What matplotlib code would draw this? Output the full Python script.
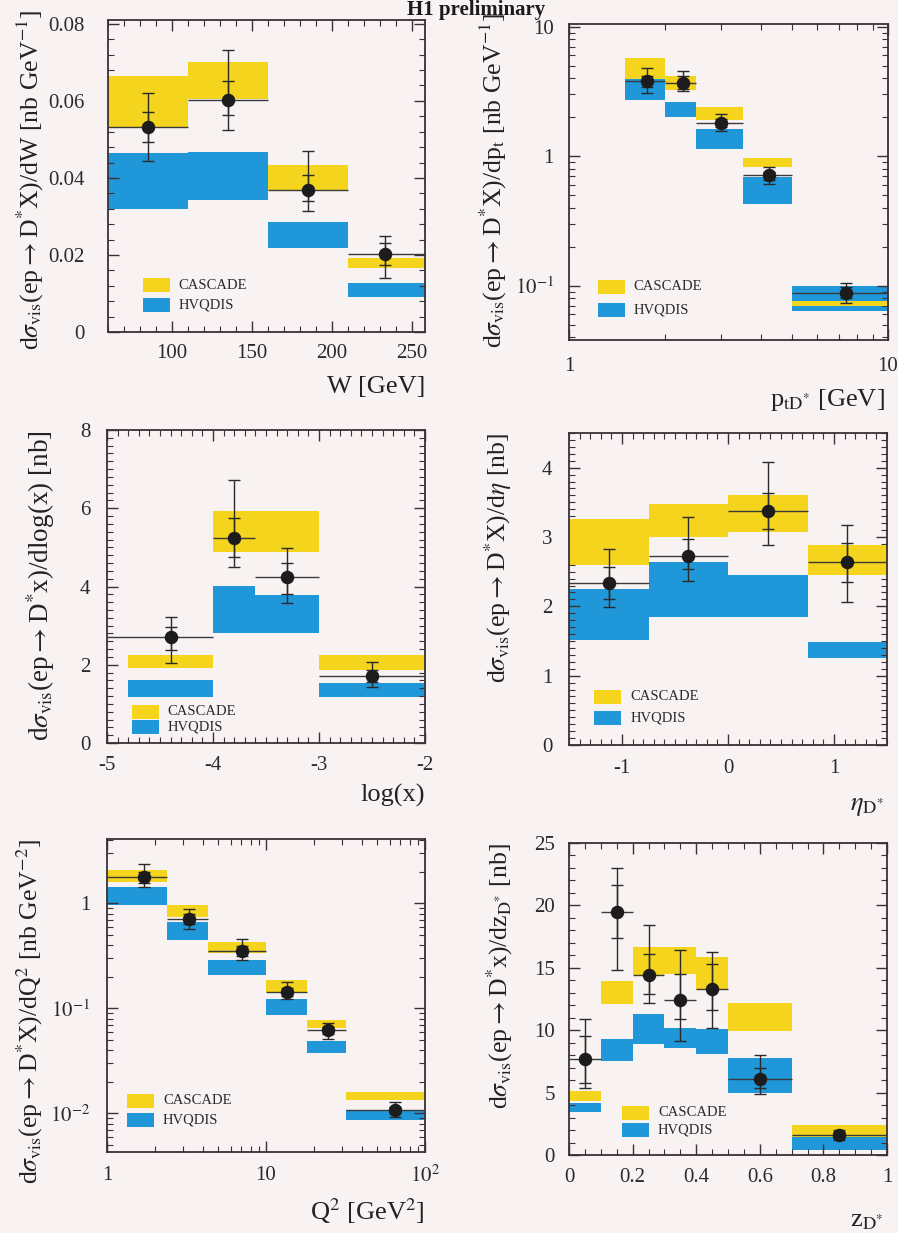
import matplotlib
matplotlib.use('Agg')
import matplotlib.pyplot as plt
import numpy as np
from matplotlib.ticker import MultipleLocator, FixedLocator, FuncFormatter, LogLocator, NullFormatter
from matplotlib.patches import Rectangle

plt.rcParams['font.family'] = ['Liberation Serif', 'DejaVu Serif']
plt.rcParams['mathtext.fontset'] = 'stix'

# ---------------- data ----------------
# Panel 1: W
w_edges = [60, 110, 160, 210, 258]
w_x = [85, 135, 185, 233]
w_val = [0.0533, 0.0603, 0.0369, 0.0203]
w_stat_dn = [0.0039, 0.0039, 0.0030, 0.0028]
w_stat_up = [0.0039, 0.0048, 0.0039, 0.0028]
w_tot_dn = [0.0090, 0.0078, 0.0056, 0.0063]
w_tot_up = [0.0087, 0.0130, 0.0102, 0.0045]
w_cas_lo = [0.0532, 0.0605, 0.0369, 0.0166]
w_cas_hi = [0.0665, 0.0700, 0.0434, 0.0192]
w_hvq_lo = [0.0320, 0.0343, 0.0218, 0.0091]
w_hvq_hi = [0.0465, 0.0468, 0.0286, 0.0127]

# Panel 2: pt(D*)
pt_edges = [1.5, 2.0, 2.5, 3.5, 5.0, 10.0]
pt_x = [1.76, 2.28, 3.0, 4.24, 7.4]
pt_val = [3.79, 3.68, 1.82, 0.71, 0.088]
pt_stat_dn = [0.39, 0.38, 0.13, 0.05, 0.008]
pt_stat_up = [0.41, 0.49, 0.13, 0.05, 0.009]
pt_tot_dn = [0.71, 0.47, 0.25, 0.10, 0.014]
pt_tot_up = [1.00, 0.89, 0.28, 0.11, 0.017]
pt_cas_lo = [3.93, 3.27, 1.90, 0.82, 0.069]
pt_cas_hi = [5.70, 4.14, 2.40, 0.96, 0.076]
pt_hvq_lo = [2.70, 2.01, 1.13, 0.43, 0.064]
pt_hvq_hi = [4.02, 2.63, 1.61, 0.69, 0.099]

# Panel 3: log(x)
lx_edges = [-5.0, -4.0, -3.6, -3.0, -2.0]
lx_mc_edges = [-4.8, -4.0, -3.6, -3.0, -2.0]
lx_x = [-4.4, -3.8, -3.3, -2.5]
lx_val = [2.72, 5.24, 4.25, 1.71]
lx_stat_dn = [0.34, 0.48, 0.43, 0.15]
lx_stat_up = [0.25, 0.50, 0.34, 0.15]
lx_tot_dn = [0.68, 0.73, 0.68, 0.27]
lx_tot_up = [0.51, 1.49, 0.73, 0.36]
lx_cas_lo = [1.92, 4.89, 4.89, 1.87]
lx_cas_hi = [2.25, 5.92, 5.92, 2.25]
lx_hvq_lo = [1.18, 2.81, 2.81, 1.18]
lx_hvq_hi = [1.61, 4.00, 3.79, 1.53]

# Panel 4: eta(D*)
eta_edges = [-1.5, -0.75, 0.0, 0.75, 1.5]
eta_x = [-1.12, -0.38, 0.38, 1.12]
eta_val = [2.34, 2.73, 3.37, 2.64]
eta_stat_dn = [0.23, 0.19, 0.25, 0.29]
eta_stat_up = [0.23, 0.24, 0.27, 0.28]
eta_tot_dn = [0.35, 0.36, 0.49, 0.58]
eta_tot_up = [0.49, 0.56, 0.71, 0.53]
eta_cas_lo = [2.59, 3.00, 3.07, 2.45]
eta_cas_hi = [3.26, 3.48, 3.60, 2.88]
eta_hvq_lo = [1.51, 1.85, 1.85, 1.25]
eta_hvq_hi = [2.25, 2.64, 2.45, 1.49]

# Panel 5: Q^2
q2_edges = [1.0, 2.4, 4.3, 10.0, 18.0, 32.0, 100.0]
q2_x = [1.72, 3.3, 7.1, 13.5, 24.6, 65.0]
q2_val = [1.78, 0.71, 0.356, 0.143, 0.062, 0.0108]
q2_stat_dn = [0.20, 0.08, 0.040, 0.012, 0.005, 0.0008]
q2_stat_up = [0.20, 0.08, 0.040, 0.012, 0.005, 0.0008]
q2_tot_dn = [0.35, 0.14, 0.070, 0.020, 0.011, 0.0016]
q2_tot_up = [0.60, 0.18, 0.100, 0.035, 0.010, 0.0020]
q2_cas_lo = [1.60, 0.75, 0.34, 0.143, 0.065, 0.0133]
q2_cas_hi = [2.06, 0.96, 0.43, 0.185, 0.077, 0.0160]
q2_hvq_lo = [0.96, 0.45, 0.206, 0.086, 0.038, 0.0086]
q2_hvq_hi = [1.43, 0.67, 0.286, 0.124, 0.0495, 0.0107]

# Panel 6: z(D*)
z_edges = [0.0, 0.1, 0.2, 0.3, 0.4, 0.5, 0.7, 1.0]
z_x = [0.05, 0.15, 0.25, 0.35, 0.45, 0.6, 0.85]
z_val = [7.66, 19.5, 14.4, 12.4, 13.3, 6.1, 1.61]
z_stat_dn = [1.9, 2.1, 1.5, 1.5, 1.7, 0.7, 0.25]
z_stat_up = [1.9, 2.1, 1.7, 2.1, 2.0, 0.9, 0.25]
z_tot_dn = [2.3, 4.7, 2.2, 3.3, 3.1, 1.25, 0.4]
z_tot_up = [3.2, 3.5, 4.0, 4.0, 3.0, 1.9, 0.4]
z_cas_lo = [4.3, 12.1, 14.4, 14.5, 13.2, 9.94, 1.48]
z_cas_hi = [5.1, 13.98, 16.7, 16.7, 15.9, 12.2, 2.42]
z_hvq_lo = [3.41, 7.52, 8.87, 8.6, 8.06, 5.0, 0.4]
z_hvq_hi = [4.17, 9.27, 11.3, 10.2, 10.1, 7.8, 1.88]

# ---------------- style ----------------
W, H = 898, 1233
BG = '#f8f3f2'
YEL = '#f4d41c'
BLU = '#2097d8'
INK = '#1c1c1c'
AX = '#3a3038'

fig = plt.figure(figsize=(W / 100, H / 100), dpi=100, facecolor=BG)


def make_ax(l, r, t, b):
    return fig.add_axes([l / W, 1 - b / H, (r - l) / W, (b - t) / H], facecolor=BG)


def draw(ax, edges, mc_edges, x, val, sdn, sup, tdn, tup, clo, chi, hlo, hhi):
    edges = np.asarray(edges, float)
    mc = np.asarray(mc_edges, float)
    clo, chi = np.asarray(clo), np.asarray(chi)
    hlo, hhi = np.asarray(hlo), np.asarray(hhi)
    ax.bar(mc[:-1], hhi - hlo, width=np.diff(mc), bottom=hlo, align='edge',
           color=BLU, linewidth=0, zorder=1)
    ax.bar(mc[:-1], chi - clo, width=np.diff(mc), bottom=clo, align='edge',
           color=YEL, linewidth=0, zorder=2)
    x = np.asarray(x, float)
    val = np.asarray(val, float)
    xl = x - edges[:-1]
    xr = edges[1:] - x
    ax.errorbar(x, val, xerr=[xl, xr], fmt='none', ecolor='#3a3a3a',
                elinewidth=1.0, capsize=0, zorder=5)
    ax.errorbar(x, val, yerr=[tdn, tup], fmt='none', ecolor='#2a2a2a',
                elinewidth=1.0, capsize=4.5, capthick=1.0, zorder=5)
    ax.errorbar(x, val, yerr=[sdn, sup], fmt='none', ecolor='#2a2a2a',
                elinewidth=1.0, capsize=4.5, capthick=1.0, zorder=5)
    ax.plot(x, val, 'o', ms=8.7, color=INK, zorder=6)


def style(ax, xpad, ypad):
    for s in ax.spines.values():
        s.set_color(AX)
        s.set_linewidth(1.3)
    ax.tick_params(which='both', direction='in', top=True, right=True,
                   colors=AX, labelcolor='#2a2a2a')
    ax.tick_params(which='major', length=8, width=1.0, labelsize=15)
    ax.tick_params(which='minor', length=4, width=0.8)
    ax.tick_params(axis='x', which='major', pad=xpad)
    ax.tick_params(axis='y', which='major', pad=ypad)


def legend(ax, lx, yc_y, yc_b):
    bw, bh = 0.085, 0.045
    for yc, col, lab in [(yc_y, YEL, 'CASCADE'), (yc_b, BLU, 'HVQDIS')]:
        ax.add_patch(Rectangle((lx, yc - bh / 2), bw, bh, transform=ax.transAxes,
                               facecolor=col, edgecolor='none', zorder=7))
        ax.text(lx + bw + 0.028, yc, lab, transform=ax.transAxes, fontsize=10.5,
                va='center', ha='left', color='#2a2a2a', zorder=8)


def ylab(ax, text, x, ytop, fs=18.5):
    ax.text(x, ytop, text, transform=ax.transAxes, rotation=90, ha='center',
            va='top', fontsize=fs, color='#222222')


def xlab(ax, text, ytop, fs=19, xr=1.0):
    ax.text(xr, ytop, text, transform=ax.transAxes, ha='right', va='top',
            fontsize=fs, color='#222222')


def logfmt(v, pos):
    if abs(v - 1) < 1e-9:
        return '1'
    if abs(v - 10) < 1e-9:
        return '10'
    e = int(round(np.log10(v)))
    return r'$10^{%d}$' % e


SIG = r'd$\sigma_{\mathrm{vis}}$(ep$\rightarrow$D$^{*}$'
DST = r'\mathrm{D}^{*}'

# Panel 1: W
ax1 = make_ax(108, 425, 20, 332)
draw(ax1, w_edges, w_edges, w_x, w_val, w_stat_dn, w_stat_up, w_tot_dn, w_tot_up,
     w_cas_lo, w_cas_hi, w_hvq_lo, w_hvq_hi)
ax1.set_xlim(60, 258)
ax1.set_ylim(0, 0.081)
ax1.xaxis.set_major_locator(FixedLocator([100, 150, 200, 250]))
ax1.xaxis.set_minor_locator(MultipleLocator(10))
ax1.yaxis.set_major_locator(MultipleLocator(0.02))
ax1.yaxis.set_minor_locator(MultipleLocator(0.004))
ax1.yaxis.set_major_formatter(FuncFormatter(lambda v, p: '0' if abs(v) < 1e-12 else '%.2f' % v))
style(ax1, 9, 17)
legend(ax1, 0.11, 0.15, 0.087)
ylab(ax1, SIG + r'X)/dW [nb GeV$^{-1}$]', -0.246, 1.032)
xlab(ax1, 'W [GeV]', -0.14)

# Panel 2: pt
ax2 = make_ax(569, 888, 24, 340)
ax2.set_xscale('log')
ax2.set_yscale('log')
draw(ax2, pt_edges, pt_edges, pt_x, pt_val, pt_stat_dn, pt_stat_up, pt_tot_dn, pt_tot_up,
     pt_cas_lo, pt_cas_hi, pt_hvq_lo, pt_hvq_hi)
ax2.set_xlim(1, 10)
ax2.set_ylim(0.038, 10.5)
ax2.xaxis.set_major_locator(FixedLocator([1, 10]))
ax2.xaxis.set_minor_locator(LogLocator(base=10, subs=np.arange(2, 10)))
ax2.xaxis.set_minor_formatter(NullFormatter())
ax2.xaxis.set_major_formatter(FuncFormatter(logfmt))
ax2.yaxis.set_major_locator(FixedLocator([0.1, 1, 10]))
ax2.yaxis.set_minor_locator(LogLocator(base=10, subs=np.arange(2, 10)))
ax2.yaxis.set_minor_formatter(NullFormatter())
ax2.yaxis.set_major_formatter(FuncFormatter(logfmt))
style(ax2, 12, 11)
legend(ax2, 0.09, 0.168, 0.095)
ylab(ax2, SIG + r'X)/dp$_{\mathrm{t}}$ [nb GeV$^{-1}$]', -0.238, 1.035)
xlab(ax2, r'p$_{\mathrm{t}' + DST + r'}$ [GeV]', -0.15, xr=0.99)

# Panel 3: log(x)
ax3 = make_ax(107, 425, 430, 743)
draw(ax3, lx_edges, lx_mc_edges, lx_x, lx_val, lx_stat_dn, lx_stat_up, lx_tot_dn, lx_tot_up,
     lx_cas_lo, lx_cas_hi, lx_hvq_lo, lx_hvq_hi)
ax3.set_xlim(-5, -2)
ax3.set_ylim(0, 8)
ax3.xaxis.set_major_locator(MultipleLocator(1))
ax3.xaxis.set_minor_locator(MultipleLocator(0.1))
ax3.yaxis.set_major_locator(MultipleLocator(2))
ax3.yaxis.set_minor_locator(MultipleLocator(0.2))
ax3.xaxis.set_major_formatter(FuncFormatter(lambda v, p: '%d' % round(v)))
style(ax3, 9, 12)
legend(ax3, 0.078, 0.10, 0.05)
ylab(ax3, SIG + r'x)/dlog(x) [nb]', -0.21, 1.0, fs=19.5)
xlab(ax3, 'log(x)', -0.13)

# Panel 4: eta
ax4 = make_ax(569, 887, 433, 745)
draw(ax4, eta_edges, eta_edges, eta_x, eta_val, eta_stat_dn, eta_stat_up, eta_tot_dn, eta_tot_up,
     eta_cas_lo, eta_cas_hi, eta_hvq_lo, eta_hvq_hi)
ax4.set_xlim(-1.5, 1.5)
ax4.set_ylim(0, 4.5)
ax4.xaxis.set_major_locator(MultipleLocator(1))
ax4.xaxis.set_minor_locator(MultipleLocator(0.1))
ax4.yaxis.set_major_locator(MultipleLocator(1))
ax4.yaxis.set_minor_locator(MultipleLocator(0.1))
ax4.xaxis.set_major_formatter(FuncFormatter(lambda v, p: '%d' % round(v)))
style(ax4, 10, 12)
legend(ax4, 0.08, 0.154, 0.087)
ylab(ax4, SIG + r'X)/d$\eta$ [nb]', -0.223, 1.0)
xlab(ax4, r'$\eta_{' + DST + r'}$', -0.165, xr=0.99)

# Panel 5: Q2
ax5 = make_ax(107, 425, 839, 1152)
ax5.set_xscale('log')
ax5.set_yscale('log')
draw(ax5, q2_edges, q2_edges, q2_x, q2_val, q2_stat_dn, q2_stat_up, q2_tot_dn, q2_tot_up,
     q2_cas_lo, q2_cas_hi, q2_hvq_lo, q2_hvq_hi)
ax5.set_xlim(1, 100)
ax5.set_ylim(0.0043, 4.1)
ax5.xaxis.set_major_locator(FixedLocator([1, 10, 100]))
ax5.xaxis.set_minor_locator(LogLocator(base=10, subs=np.arange(2, 10)))
ax5.xaxis.set_minor_formatter(NullFormatter())
ax5.xaxis.set_major_formatter(FuncFormatter(logfmt))
ax5.yaxis.set_major_locator(FixedLocator([0.01, 0.1, 1]))
ax5.yaxis.set_minor_locator(LogLocator(base=10, subs=np.arange(2, 10)))
ax5.yaxis.set_minor_formatter(NullFormatter())
ax5.yaxis.set_major_formatter(FuncFormatter(logfmt))
style(ax5, 10, 12)
legend(ax5, 0.063, 0.163, 0.102)
ylab(ax5, SIG + r'X)/dQ$^{2}$ [nb GeV$^{-2}$]', -0.242, 1.0)
xlab(ax5, r'Q$^{2}$ [GeV$^{2}$]', -0.14)

# Panel 6: z
ax6 = make_ax(569, 887, 843, 1155)
draw(ax6, z_edges, z_edges, z_x, z_val, z_stat_dn, z_stat_up, z_tot_dn, z_tot_up,
     z_cas_lo, z_cas_hi, z_hvq_lo, z_hvq_hi)
ax6.set_xlim(0, 1)
ax6.set_ylim(0, 25)
ax6.xaxis.set_major_locator(MultipleLocator(0.2))
ax6.xaxis.set_minor_locator(MultipleLocator(0.05))
ax6.yaxis.set_major_locator(MultipleLocator(5))
ax6.yaxis.set_minor_locator(MultipleLocator(1))
ax6.xaxis.set_major_formatter(FuncFormatter(lambda v, p: '%d' % round(v) if abs(v - round(v)) < 1e-9 else '%.1f' % v))
style(ax6, 9, 10)
legend(ax6, 0.167, 0.135, 0.08)
ylab(ax6, SIG + r'x)/dz$_{' + DST + r'}$ [nb]', -0.217, 1.0)
xlab(ax6, r'z$_{' + DST + r'}$', -0.175, xr=0.99)

# Title, kept fully inside the figure at the top centre
fig.text(476 / W, 1 - 15 / H, 'H1 preliminary', ha='center', va='baseline',
         fontsize=15, fontweight='bold', color='#1a1a1a')

fig.savefig('out.png', dpi=100, facecolor=BG)
